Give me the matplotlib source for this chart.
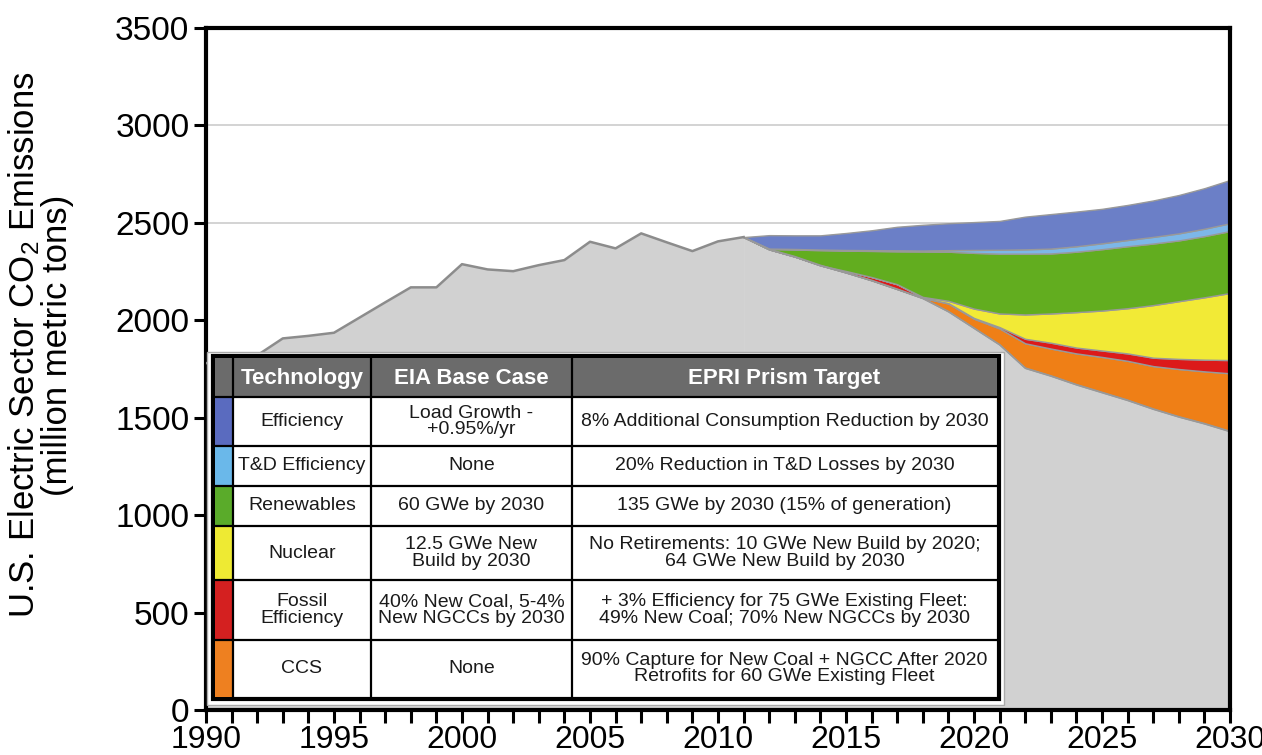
import numpy as np
import matplotlib
matplotlib.use('Agg')
import matplotlib.pyplot as plt
from matplotlib.patches import Rectangle

plt.rcParams['font.family'] = ['Liberation Sans', 'DejaVu Sans']
plt.rcParams['mathtext.fontset'] = 'custom'
plt.rcParams['mathtext.rm'] = 'Liberation Sans'

# 历史排放 (million metric tons)
hist_years = list(range(1990, 2012))
hist_emissions = [1780, 1790, 1820, 1907, 1920, 1936, 2014, 2092, 2169, 2169, 2288,
                  2261, 2252, 2283, 2309, 2403, 2369, 2446, 2400, 2355, 2405, 2427]

# 预测：目标排放 + 各技术楔形
proj_years = list(range(2011, 2031))
target = [2427, 2364, 2327, 2282, 2245, 2205, 2160, 2113, 2045, 1960,
          1875, 1755, 1715, 1670, 1630, 1590, 1545, 1505, 1470, 1430]
ccs = [0, 0, 0, 0, 0, 0, 0, 2, 41, 48, 83, 127, 140, 160, 182, 202, 220, 245, 268, 298]
fossil = [0, 0, 0, 0, 8, 17, 25, 1, 2, 4, 7, 23, 30, 30, 33, 38, 43, 52, 60, 68]
nuclear = [0, 0, 0, 0, 0, 0, 0, 4, 12, 48, 70, 125, 150, 182, 205, 232, 270, 296, 320, 344]
renewables = [0, 2, 36, 78, 104, 134, 169, 233, 252, 286, 307, 312, 308, 310, 315, 318, 316, 312, 314, 318]
td_eff = [0, 2, 3, 3, 4, 4, 5, 5, 8, 15, 20, 22, 25, 28, 30, 32, 34, 36, 38, 40]
efficiency = [0, 69, 70, 73, 87, 102, 121, 132, 138, 143, 148, 168, 177, 178, 177, 180, 187, 197, 208, 222]

wedges = [ccs, fossil, nuclear, renewables, td_eff, efficiency]
wedge_colors = ['#ef7f16', '#dc1a1a', '#f2ea36', '#62ad1f', '#7db7e8', '#6b7fc7']

# 表格内容
tech_names = ['Efficiency', 'T&D Efficiency', 'Renewables', 'Nuclear', 'Fossil\nEfficiency', 'CCS']
eia_case = ['Load Growth -\n+0.95%/yr', 'None', '60 GWe by 2030', '12.5 GWe New\nBuild by 2030',
            '40% New Coal, 5-4%\nNew NGCCs by 2030', 'None']
epri_target = ['8% Additional Consumption Reduction by 2030',
               '20% Reduction in T&D Losses by 2030',
               '135 GWe by 2030 (15% of generation)',
               'No Retirements: 10 GWe New Build by 2020;\n64 GWe New Build by 2030',
               '+ 3% Efficiency for 75 GWe Existing Fleet:\n49% New Coal; 70% New NGCCs by 2030',
               '90% Capture for New Coal + NGCC After 2020\nRetrofits for 60 GWe Existing Fleet']
swatch_colors = ['#5a6bbf', '#6ab8ea', '#5aab2a', '#eeea33', '#d42020', '#ee8020']

gray = '#d1d1d1'
edge = '#999999'

fig = plt.figure(figsize=(12.62, 7.55), dpi=100)
ax = fig.add_axes([206 / 1262, 1 - 710 / 755, 1024 / 1262, 682 / 755])

for yv in [2500, 3000]:
    ax.axhline(yv, color='#cccccc', lw=1.2, zorder=0)

ax.fill_between(hist_years, hist_emissions, color=gray, lw=0, zorder=1)
ax.plot(hist_years, hist_emissions, color='#8c8c8c', lw=1.8, zorder=3)

ax.fill_between(proj_years, target, color=gray, lw=0.5, edgecolor=gray, zorder=1)
lower = np.array(target, dtype=float)
for vals, c in zip(wedges, wedge_colors):
    upper = lower + np.array(vals)
    ax.fill_between(proj_years, lower, upper, facecolor=c, edgecolor=edge, lw=1.0, zorder=2)
    lower = upper
ax.plot(proj_years, target, color=edge, lw=1.2, zorder=2)

ax.set_xlim(1990, 2030)
ax.set_ylim(0, 3500)
ax.set_yticks(range(0, 3501, 500))
ax.set_xticks(range(1990, 2031))
ax.set_xticklabels([str(y) if y % 5 == 0 else '' for y in range(1990, 2031)])
ax.tick_params(axis='both', direction='out', length=9, width=2.2, labelsize=24, color='black')
ax.tick_params(axis='y', pad=3)
ax.tick_params(axis='x', pad=2, labelsize=23)
for sp in ax.spines.values():
    sp.set_linewidth(3)
    sp.set_color('black')

fig.text(24 / 1262, 1 - 345 / 755, 'U.S. Electric Sector $\\mathregular{CO_2}$ Emissions',
         rotation=90, ha='center', va='center', fontsize=25)
fig.text(58 / 1262, 1 - 345 / 755, '(million metric tons)',
         rotation=90, ha='center', va='center', fontsize=25)

# 表格
tax = fig.add_axes([205 / 1262, 1 - 706 / 755, 805 / 1262, 358 / 755])
tax.set_xlim(205, 1010)
tax.set_ylim(706, 348)
tax.axis('off')

cols = [215, 233, 371, 572, 997]
rows = [358, 397, 446, 486, 526, 580, 640, 697]

tax.add_patch(Rectangle((207, 352), 797, 353, fc='white', ec='#aaaaaa', lw=1))
tax.add_patch(Rectangle((213, 356), 786, 343, fc='white', ec='black', lw=3))
tax.add_patch(Rectangle((cols[0], rows[0]), cols[-1] - cols[0], rows[1] - rows[0], fc='#6b6b6b', lw=0))
for i, c in enumerate(swatch_colors):
    tax.add_patch(Rectangle((cols[0], rows[i + 1]), cols[1] - cols[0], rows[i + 2] - rows[i + 1], fc=c, lw=0))
for x in cols[1:-1]:
    tax.plot([x, x], [rows[0], rows[-1]], color='black', lw=1.6)
for y in rows[1:-1]:
    tax.plot([cols[0], cols[-1]], [y, y], color='black', lw=1.6)

headers = ['Technology', 'EIA Base Case', 'EPRI Prism Target']
for j, h in enumerate(headers):
    xc = (cols[j + 1] + cols[j + 2]) / 2
    tax.text(xc, (rows[0] + rows[1]) / 2 + 1, h, ha='center', va='center', fontsize=16,
             fontweight='bold', color='white')

for i in range(len(tech_names)):
    yc = (rows[i + 1] + rows[i + 2]) / 2
    for j, txt in enumerate([tech_names[i], eia_case[i], epri_target[i]]):
        xc = (cols[j + 1] + cols[j + 2]) / 2
        tax.text(xc, yc, txt, ha='center', va='center', fontsize=14, color='#1a1a1a',
                 linespacing=0.95)

fig.savefig('out.png', dpi=100, facecolor='white')
